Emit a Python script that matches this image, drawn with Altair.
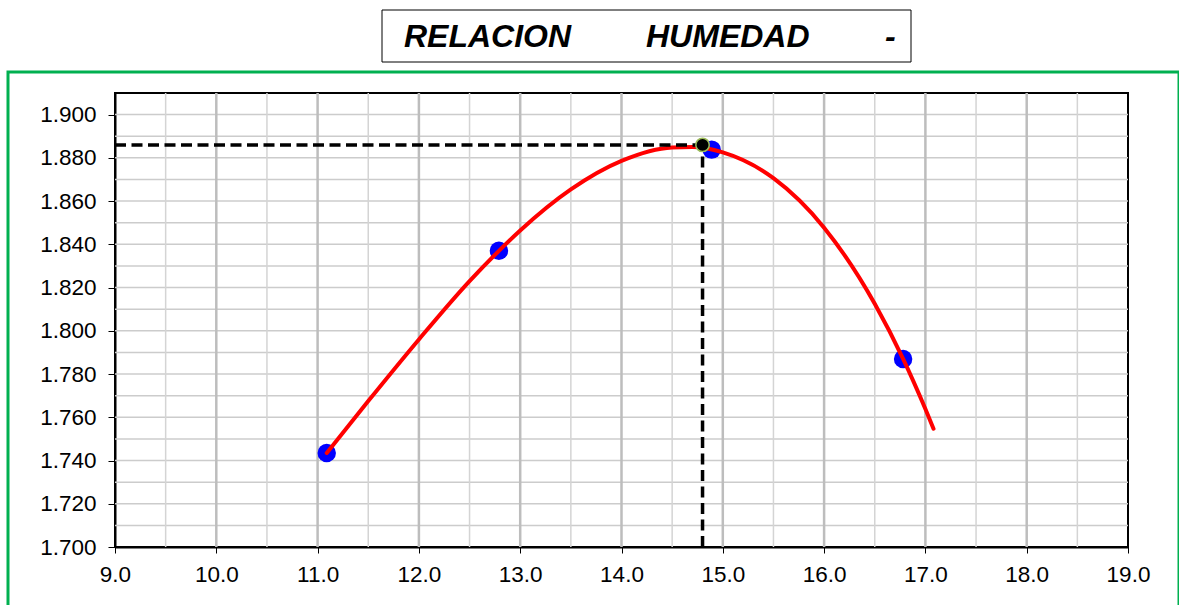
import altair as alt
import pandas as pd

# ---- data ----
humedad = [11.09, 12.79, 14.89, 16.78]
densidad = [1.7435, 1.837, 1.8838, 1.787]

curva_x = [11.09, 11.5, 12.0, 12.5, 12.79, 13.0, 13.5, 14.0, 14.5, 14.7, 15.0, 15.5, 16.0, 16.5, 16.78, 17.0, 17.08]
curva_y = [1.7435, 1.7675, 1.796, 1.823, 1.837, 1.8464, 1.8654, 1.8786, 1.8848, 1.885, 1.8825, 1.8706, 1.8477, 1.8125, 1.787, 1.7638, 1.7547]

optimo_x = [14.8]
optimo_y = [1.886]

x_ticks = [9.0, 10.0, 11.0, 12.0, 13.0, 14.0, 15.0, 16.0, 17.0, 18.0, 19.0]
y_ticks = [1.70, 1.72, 1.74, 1.76, 1.78, 1.80, 1.82, 1.84, 1.86, 1.88, 1.90]
x_major = [10.0, 11.0, 12.0, 13.0, 14.0, 15.0, 16.0, 17.0, 18.0]
x_minor = [9.5, 10.5, 11.5, 12.5, 13.5, 14.5, 15.5, 16.5, 17.5, 18.5]
y_grid = [1.71, 1.72, 1.73, 1.74, 1.75, 1.76, 1.77, 1.78, 1.79, 1.80,
          1.81, 1.82, 1.83, 1.84, 1.85, 1.86, 1.87, 1.88, 1.89, 1.90]
title_words = ["RELACION", "HUMEDAD", "-"]

FONT = "Liberation Sans"

xscale = alt.Scale(domain=[9, 19], nice=False, zero=False)
yscale = alt.Scale(domain=[1.70, 1.91], nice=False, zero=False)
xaxis = alt.Axis(values=x_ticks, format=".1f", title=None, grid=False,
                 domainColor="black", domainWidth=2, tickColor="black",
                 tickSize=6, tickWidth=1, labelFont=FONT, labelFontSize=22.5,
                 labelColor="black", labelPadding=10, labelFlush=False)
yaxis = alt.Axis(values=y_ticks, format=".3f", title=None, grid=False,
                 domainColor="black", domainWidth=2, tickColor="black",
                 tickSize=7, tickWidth=1, labelFont=FONT, labelFontSize=22.5,
                 labelColor="black", labelPadding=12, labelFlush=False)

def X(f="x"):
    return alt.X(f + ":Q", scale=xscale, axis=xaxis)

def Y(f="y"):
    return alt.Y(f + ":Q", scale=yscale, axis=yaxis)

pts = pd.DataFrame({"x": humedad, "y": densidad})
curve = pd.DataFrame({"x": curva_x, "y": curva_y})
opt = pd.DataFrame({"x": optimo_x, "y": optimo_y})
hdash = pd.DataFrame({"x": [x_ticks[0]], "x2": optimo_x, "y": optimo_y})
vdash = pd.DataFrame({"x": optimo_x, "y": [y_ticks[0]], "y2": optimo_y})
one = pd.DataFrame({"a": [0]})

grid_h = alt.Chart(pd.DataFrame({"y": y_grid})).mark_rule(
    color="#cccccc", strokeWidth=1.5).encode(y=Y())
grid_minor = alt.Chart(pd.DataFrame({"x": x_minor})).mark_rule(
    color="#d4d4d4", strokeWidth=1.5).encode(x=X())
grid_major = alt.Chart(pd.DataFrame({"x": x_major})).mark_rule(
    color="#bdbdbd", strokeWidth=2.5).encode(x=X())

points = alt.Chart(pts).mark_circle(size=340, color="#0000ff", opacity=1).encode(x=X(), y=Y())

line = alt.Chart(curve).mark_line(color="#ff0000", strokeWidth=4,
                                  interpolate="monotone", strokeCap="round").encode(x=X(), y=Y())

hline = alt.Chart(hdash).mark_rule(color="black", strokeWidth=3.5, strokeDash=[11, 5.5]).encode(
    x=X(), x2="x2:Q", y=Y())
vline = alt.Chart(vdash).mark_rule(color="black", strokeWidth=3.5, strokeDash=[11, 5.5]).encode(
    x=X(), y=Y(), y2="y2:Q")

opt_pt = alt.Chart(opt).mark_point(shape="circle", size=180, filled=True, fill="black",
                                   stroke="#9bbb59", strokeWidth=1.5, opacity=1).encode(x=X(), y=Y())

frame = alt.Chart(one).mark_rect(filled=False, color="#00b050", strokeWidth=3).encode(
    x=alt.value(-107), x2=alt.value(1064), y=alt.value(-21), y2=alt.value(540))

tbox = alt.Chart(one).mark_rect(fill="white", stroke="black", strokeWidth=1).encode(
    x=alt.value(267), x2=alt.value(796), y=alt.value(-83), y2=alt.value(-31))

def word(txt, xpos):
    return alt.Chart(one).mark_text(text=txt, font=FONT, fontSize=32, fontWeight="bold",
                                    fontStyle="italic", align="left", baseline="middle",
                                    color="black").encode(x=alt.value(xpos), y=alt.value(-56))

t1 = word(title_words[0], 289)
t2 = word(title_words[1], 531)
t3 = word(title_words[2], 770)

chart = alt.layer(
    grid_h, grid_minor, grid_major, points, line, hline, vline, opt_pt,
    frame, tbox, t1, t2, t3
).properties(
    width=1013, height=454,
    autosize=alt.AutoSizeParams(type="none"),
    padding={"left": 115, "top": 93, "right": 51, "bottom": 58},
    background="white",
).configure_view(stroke="black", strokeWidth=2)

chart.save("out.html", embed_options={"renderer": "svg", "actions": False})
